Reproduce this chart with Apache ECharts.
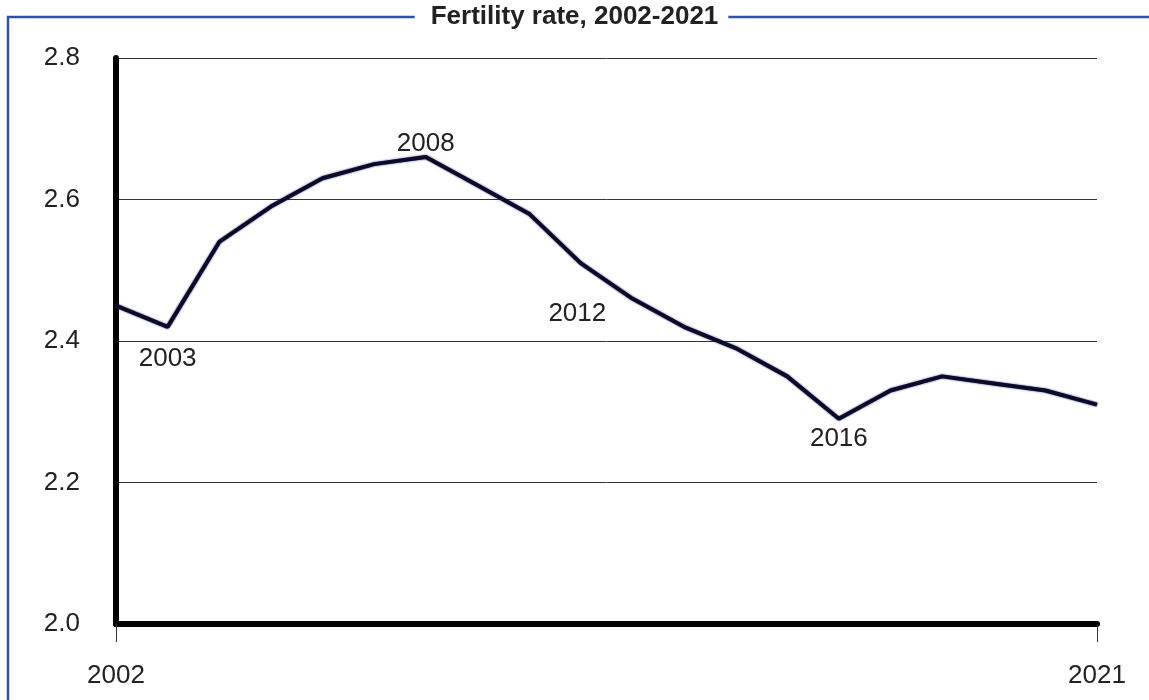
<!DOCTYPE html>
<html>
<head>
<meta charset="utf-8">
<script src="https://cdn.jsdelivr.net/npm/echarts@6/dist/echarts.min.js"></script>
<style>html,body{margin:0;padding:0;background:#fff}#c{width:1149px;height:700px}</style>
</head>
<body>
<div id="c"></div>
<script>
const titleText = 'Fertility rate, 2002-2021';
const years = ['2002','2003','2004','2005','2006','2007','2008','2009','2010','2011','2012','2013','2014','2015','2016','2017','2018','2019','2020','2021'];
const fertility = [2.45, 2.42, 2.54, 2.59, 2.63, 2.65, 2.66, 2.62, 2.58, 2.51, 2.46, 2.42, 2.39, 2.35, 2.29, 2.33, 2.35, 2.34, 2.33, 2.31];
const annotatedYears = ['2003', '2008', '2012', '2016'];
const yTicks = [2.0, 2.2, 2.4, 2.6, 2.8];

const labelPos = {
  '2003': {position: 'bottom', distance: 19, offset: [0, 0]},
  '2008': {position: 'top', distance: 0, offset: [0, 0]},
  '2012': {position: 'bottom', distance: 2, offset: [-55, 0]},
  '2016': {position: 'bottom', distance: 7, offset: [0, 0]}
};

const seriesData = fertility.map((v, i) => {
  const y = years[i];
  if (annotatedYears.includes(y)) {
    const p = labelPos[y];
    return {value: v, label: {show: true, formatter: y, position: p.position, distance: p.distance, offset: p.offset}};
  }
  return {value: v};
});

const chart = echarts.init(document.getElementById('c'), null, {renderer: 'canvas'});
const font = "'Liberation Sans', Arial, Helvetica, sans-serif";
chart.setOption({
  animation: false,
  backgroundColor: '#fff',
  title: {
    text: titleText,
    left: 'center',
    top: 3,
    padding: [0, 10, 0, 16],
    backgroundColor: '#fff',
    textStyle: {fontFamily: font, fontWeight: 'bold', fontSize: 26, color: '#222', lineHeight: 28}
  },
  graphic: [{
    type: 'polyline',
    z: 0,
    shape: {points: [[8, 700], [8, 17], [1149, 17]]},
    style: {stroke: '#2f52a3', lineWidth: 2.5, fill: null}
  }],
  grid: {left: 116, right: 52, top: 58, bottom: 76},
  xAxis: {
    type: 'category',
    data: years,
    boundaryGap: false,
    axisLine: {show: true, lineStyle: {color: '#000', width: 6}, onZero: false},
    axisTick: {show: true, length: 18, lineStyle: {color: '#333', width: 1}, interval: (i) => i === 0 || i === years.length - 1},
    axisLabel: {show: true, margin: 39, fontFamily: font, fontSize: 26, color: '#222', interval: (i) => i === 0 || i === years.length - 1},
    splitLine: {show: false},
    z: 5
  },
  yAxis: {
    type: 'value',
    min: yTicks[0],
    max: yTicks[yTicks.length - 1],
    interval: 0.2,
    axisLine: {show: true, lineStyle: {color: '#000', width: 6}},
    axisTick: {show: false},
    axisLabel: {margin: 36, fontFamily: font, fontSize: 26, color: '#222', formatter: (v) => v.toFixed(1)},
    splitLine: {show: true, lineStyle: {color: '#333', width: 1}}
  },
  series: [{
    type: 'line',
    data: seriesData,
    symbol: 'circle',
    symbolSize: 0.01,
    showAllSymbol: true,
    itemStyle: {color: 'rgba(0,0,0,0)'},
    lineStyle: {color: '#0c0b26', width: 4, shadowColor: '#2b2b8f', shadowBlur: 2},
    label: {show: false, fontFamily: font, fontSize: 26, color: '#222'},
    z: 3
  }]
});
</script>
</body>
</html>
